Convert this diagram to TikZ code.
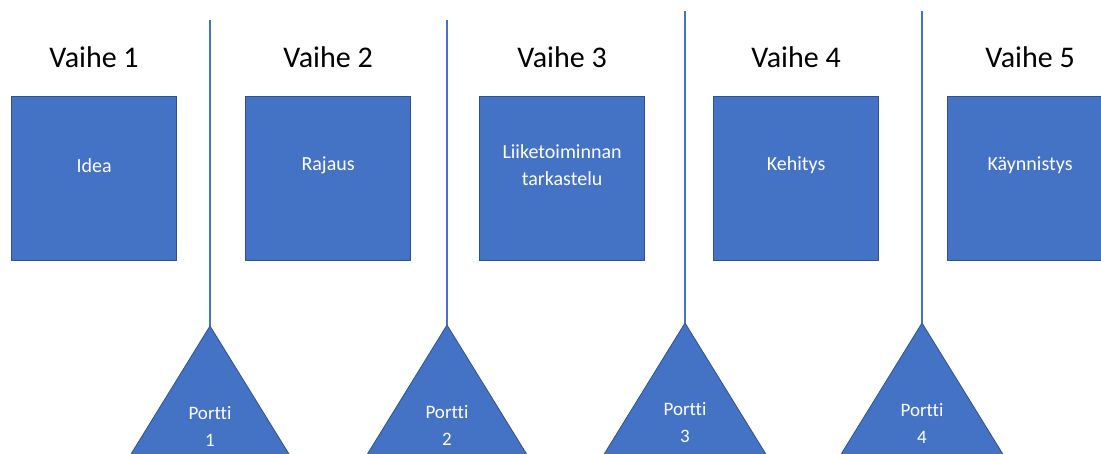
\documentclass[tikz,border=0pt]{standalone}
\usepackage{fontspec}
\setmainfont[Ligatures=NoCommon]{Carlito}
\usetikzlibrary{positioning}
\definecolor{officeblue}{HTML}{4472C4}
\definecolor{edgeblue}{HTML}{2F528F}
\tikzset{
  vaihebox/.style={draw=edgeblue, fill=officeblue, line width=1.2pt,
    minimum width=165pt, minimum height=164pt, inner sep=0pt, anchor=north west},
  boxtext/.style={text=white, align=center, font=\fontsize{20}{27}\selectfont},
  otsikko/.style={anchor=base, font=\fontsize{30}{36}\selectfont},
  porttikolmio/.style={draw=edgeblue, fill=officeblue, line width=0.8pt},
  porttiteksti/.style={text=white, align=center, font=\fontsize{19}{27}\selectfont},
  raja/.style={draw=officeblue, line width=1.6pt}
}
\begin{document}
\begin{tikzpicture}[x=1pt,y=-1pt]
  \useasboundingbox (0,0) rectangle (1101,454);
  \clip (0,0) rectangle (1101,454);
  % vaiheet
  \foreach \i/\txt in {1/Idea,2/Rajaus,3/{Liiketoiminnan\\tarkastelu},4/Kehitys,5/Käynnistys}
  {
    \node[vaihebox] (box\i) at ({11+234*(\i-1)},96) {};
    \node[boxtext] (txt\i) at ([yshift=13pt]box\i.center) {\txt};
    \node[otsikko] (otsikko\i) at ([yshift=28pt]box\i.north) {Vaihe \i};
  }
  % portit
  \foreach \i/\x/\ytop/\yk in {1/210/20/326,2/447/20/325,3/685/11/323,4/922/11/323}
  {
    \coordinate (ylaraja\i) at (\x,\ytop);
    \coordinate (portti\i) at (\x,\yk);
    \filldraw[porttikolmio] (portti\i) -- ++(-95,154) -- ++(190,0) -- cycle;
    \node[porttiteksti] (pt\i) at ([yshift=-100pt]portti\i) {Portti\\\i};
    \draw[raja] (ylaraja\i) -- (portti\i);
  }
\end{tikzpicture}
\end{document}
